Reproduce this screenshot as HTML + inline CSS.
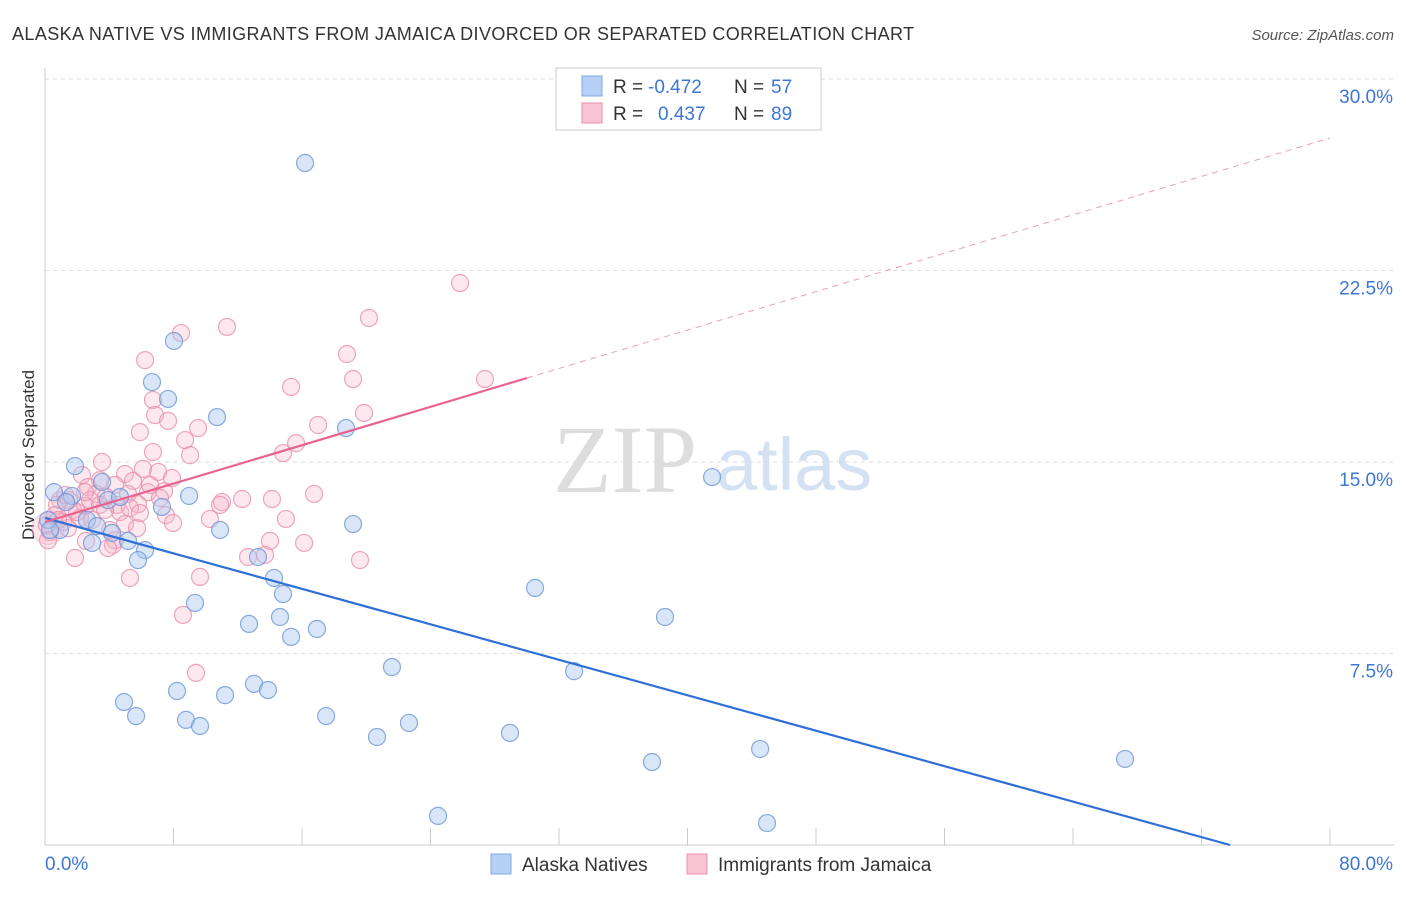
<!DOCTYPE html>
<html><head><meta charset="utf-8"><style>
body{margin:0;background:#fff;font-family:"Liberation Sans",sans-serif}
</style></head><body>
<svg id="chart" width="1406" height="892" xmlns="http://www.w3.org/2000/svg" font-family="Liberation Sans, sans-serif">
<text x="12" y="40" font-size="18" fill="#333" letter-spacing="0.4">ALASKA NATIVE VS IMMIGRANTS FROM JAMAICA DIVORCED OR SEPARATED CORRELATION CHART</text>
<text x="1394" y="40" font-size="15" fill="#555" font-style="italic" text-anchor="end">Source: ZipAtlas.com</text>
<text x="34" y="455" font-size="17" fill="#333" text-anchor="middle" transform="rotate(-90 34 455)">Divorced or Separated</text>
<text x="553" y="492" font-size="96" fill="#ddd" font-family="Liberation Serif, serif">ZIP</text>
<text x="716" y="490" font-size="74" fill="#d3e1f3">atlas</text>
<g id="grid"></g><g id="axes"></g><g id="pts"></g><g id="lines"></g>
<g>
<rect x="556" y="68" width="265" height="62" fill="#fff" stroke="#ccc"/>
<rect x="582" y="76" width="20" height="20" fill="#b7d0f5" stroke="#7fa8e0"/>
<text x="613" y="93" font-size="19" fill="#333">R =</text>
<text x="648" y="93" font-size="19" fill="#3b77d8">-0.472</text>
<text x="734" y="93" font-size="19" fill="#333">N =</text>
<text x="771" y="93" font-size="19" fill="#3b77d8">57</text>
<rect x="582" y="103" width="20" height="20" fill="#f8c4d4" stroke="#e890ab"/>
<text x="613" y="120" font-size="19" fill="#333">R =</text>
<text x="658" y="120" font-size="19" fill="#3b77d8">0.437</text>
<text x="734" y="120" font-size="19" fill="#333">N =</text>
<text x="771" y="120" font-size="19" fill="#3b77d8">89</text>
</g>
<g>
<rect x="491" y="854" width="20" height="20" fill="#b7d0f5" stroke="#7fa8e0"/>
<text x="522" y="871" font-size="19" fill="#333">Alaska Natives</text>
<rect x="687" y="854" width="20" height="20" fill="#f8c4d4" stroke="#e890ab"/>
<text x="718" y="871" font-size="19" fill="#333">Immigrants from Jamaica</text>
</g>
</svg>
<script>
const yTicks=[7.5,15,22.5,30];
const yTickLabels=["7.5%","15.0%","22.5%","30.0%"];
const xTickVals=[0,8,16,24,32,40,48,56,64,72,80];
const blueX=[16.19,8.03,6.66,7.66,10.71,18.74,1.87,41.53,0.56,1.68,3.55,8.97,7.28,2.61,3.24,19.18,10.90,4.17,0.93,2.93,5.17,6.23,5.79,13.26,14.26,14.82,30.51,9.34,14.63,38.60,12.70,16.93,15.32,21.60,32.94,8.22,13.01,13.88,11.21,4.92,5.67,17.50,8.78,9.65,22.66,20.67,28.95,44.52,37.79,67.24,24.47,44.95,0.19,0.31,3.92,4.67,1.31];
const blueY=[26.71,19.74,18.13,17.47,16.76,16.33,14.84,14.41,13.82,13.67,14.22,13.67,13.24,12.73,12.49,12.57,12.34,12.22,12.34,11.83,11.91,11.55,11.16,11.28,10.46,9.83,10.07,9.48,8.93,8.93,8.66,8.46,8.15,6.97,6.81,6.03,6.31,6.07,5.87,5.60,5.05,5.05,4.90,4.66,4.78,4.23,4.39,3.76,3.25,3.37,1.14,0.86,12.73,12.34,13.51,13.63,13.43];
const pinkX=[25.84,20.17,11.33,8.47,18.80,6.23,19.18,27.39,15.32,6.72,19.86,6.85,7.66,17.00,5.91,9.53,8.72,15.63,6.72,9.03,14.82,3.55,2.30,4.98,7.04,6.10,7.91,3.42,2.68,5.48,4.36,0.93,3.18,5.17,3.80,6.41,7.41,12.27,14.13,16.75,11.02,10.90,0.75,1.74,2.49,4.48,5.79,4.67,5.29,7.53,2.18,10.27,15.00,7.97,4.98,1.12,1.43,5.73,0.31,0.12,4.36,2.55,14.01,16.13,4.23,3.92,12.64,13.70,19.61,1.87,9.65,5.29,8.59,9.40,5.91,0.62,2.80,3.42,7.16,3.74,1.25,6.54,1.99,2.93,4.05,0.19,0.81,1.49,2.49];
const pinkY=[22.01,20.64,20.29,20.05,19.23,18.99,18.25,18.25,17.94,17.43,16.92,16.84,16.61,16.45,16.17,16.33,15.86,15.74,15.39,15.27,15.35,15.00,14.49,14.53,14.61,14.73,14.37,14.29,14.02,14.26,14.10,13.51,13.75,13.75,13.63,13.82,13.86,13.55,13.55,13.75,13.43,13.32,13.32,13.12,13.28,13.32,13.35,13.04,13.20,12.92,12.81,12.77,12.77,12.61,12.57,12.65,12.41,12.41,12.26,12.53,11.94,11.91,11.91,11.83,11.75,11.63,11.28,11.36,11.16,11.24,10.50,10.46,9.01,6.74,13.00,12.92,13.51,13.32,13.59,13.12,13.71,14.10,13.04,12.73,12.34,11.94,12.73,13.51,13.82];
const blueTrend=[[0,12.81],[73.78,0]];
const pinkTrendSolid=[[0,12.65],[30.01,18.29]];
const pinkTrendDash=[[30.01,18.29],[80,27.69]];
const NS="http://www.w3.org/2000/svg";
const sx=v=>45+v/80*1285, sy=v=>845-v/7.5*191.5;
function mk(p,t,a){const e=document.createElementNS(NS,t);for(const k in a)e.setAttribute(k,a[k]);document.getElementById(p).appendChild(e);return e;}
yTicks.forEach((t,i)=>{
 const g=mk('grid','line',{x1:45,x2:1394,y1:sy(t),y2:sy(t),stroke:'#ddd','stroke-dasharray':'4,4'});
 
 
 const l=mk('axes','text',{x:1393,y:sy(t)+24,'font-size':19,fill:'#3b77d8','text-anchor':'end'});l.textContent=yTickLabels[i];
 
 
});
const ax=mk('axes','line',{x1:45,x2:1394,y1:845,y2:845,stroke:'#ccc'});


const ay=mk('axes','line',{x1:45,x2:45,y1:68,y2:845,stroke:'#ccc'});


xTickVals.forEach(t=>{const e=mk('axes','line',{x1:sx(t),x2:sx(t),y1:828,y2:845,stroke:'#ccc'});
 
 });
const x0=mk('axes','text',{x:45,y:870,'font-size':19,fill:'#3b77d8'});x0.textContent='0.0%';


const x1=mk('axes','text',{x:1393,y:870,'font-size':19,fill:'#3b77d8','text-anchor':'end'});x1.textContent='80.0%';


const big=mk('pts','circle',{cx:sx(0.2),cy:sy(12.4),r:16,fill:'rgba(245,180,200,0.3)',stroke:'rgba(232,144,171,0.5)'});


pinkX.forEach((x,i)=>{const c=mk('pts','circle',{cx:sx(x),cy:sy(pinkY[i]),r:8.5,fill:'rgba(245,180,200,0.3)',stroke:'rgba(232,144,171,0.8)','stroke-width':1.2});
 
 });
blueX.forEach((x,i)=>{const c=mk('pts','circle',{cx:sx(x),cy:sy(blueY[i]),r:8.5,fill:'rgba(169,200,240,0.45)',stroke:'rgba(110,150,215,0.8)','stroke-width':1.2});
 
 });
function tl(d,col,w,dash){const e=mk('lines','line',{x1:sx(d[0][0]),y1:sy(d[0][1]),x2:sx(d[1][0]),y2:sy(d[1][1]),stroke:col,'stroke-width':w});if(dash)e.setAttribute('stroke-dasharray',dash);return e;}
const b=tl(blueTrend,'#2f6fd6',2.2);


const p=tl(pinkTrendSolid,'#e8638f',2.2);


const pd=tl(pinkTrendDash,'#eaa0b8',1,'6,5');


</script>
</body></html>
